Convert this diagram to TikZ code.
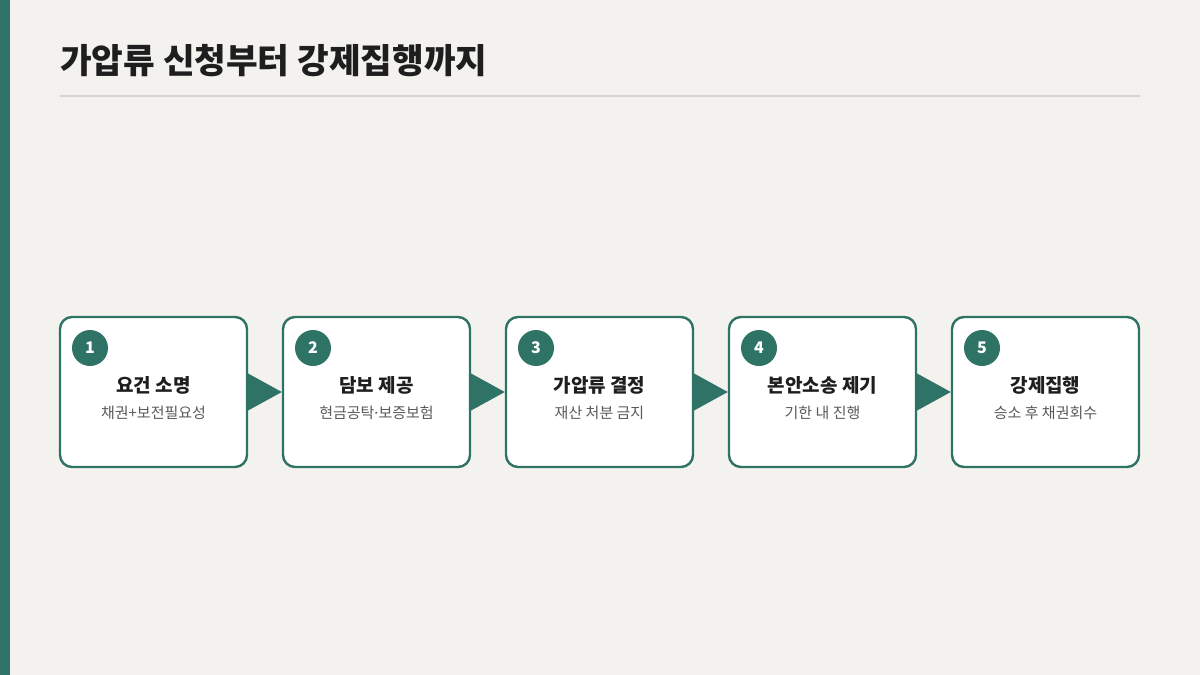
\documentclass[tikz,border=0pt]{standalone}
\usepackage{fontspec}
\newfontfamily\cjk{Noto Sans CJK KR}
\newfontfamily\latn{Noto Sans}
\definecolor{teal}{HTML}{2E7366}
\definecolor{bg}{HTML}{F3F2EE}
\definecolor{rule}{HTML}{D6D4CF}
\definecolor{ink}{HTML}{1E1E1E}
\definecolor{sub}{HTML}{5A5A5A}
\begin{document}
\begin{tikzpicture}[x=1pt,y=-1pt,
  stepbox/.style={draw=teal,line width=2.4pt,fill=white,rounded corners=12pt,minimum width=187pt,minimum height=150pt,inner sep=0pt},
  num/.style={circle,fill=teal,minimum size=36pt,inner sep=0pt,text=white,font=\cjk\bfseries\fontsize{16}{16}\selectfont},
  head/.style={text=ink,font=\cjk\bfseries\fontsize{19}{19}\selectfont,inner sep=0pt},
  subt/.style={text=sub,font=\cjk\fontsize{15}{15}\selectfont,inner sep=0pt},
  tri/.style={fill=teal}]
\fill[bg] (0,0) rectangle (1200,675);
\useasboundingbox (0,0) rectangle (1200,675);
\fill[teal] (0,0) rectangle (10,675);
\node[anchor=base west,inner sep=0pt,text=ink,font=\cjk\bfseries\fontsize{34.4}{34.4}\selectfont] (title) at (60,73) {가압류 신청부터 강제집행까지};
\draw[rule,line width=2pt] (60,96) coordinate (r1) -- (1140,96) coordinate (r2);
\foreach \i/\h/\s in {1/요건 소명/채권+보전필요성,2/담보 제공/현금공탁{\latn·}보증보험,3/가압류 결정/재산 처분 금지,4/본안소송 제기/기한 내 진행,5/강제집행/승소 후 채권회수}{
  \pgfmathsetmacro\cx{153.5+223*(\i-1)}
  \node[stepbox] (b\i) at (\cx,392) {};
  \node[num] (n\i) at (\cx-63.5,348) {\i};
  \node[head] (h\i) at (\cx,385) {\h};
  \node[subt] (s\i) at (\cx,413) {\s};
}
\foreach \i/\j in {1/2,2/3,3/4,4/5}{
  \fill[tri] ([xshift=-1pt,yshift=-19pt]b\i.east) -- ([xshift=-1pt,yshift=19pt]b\i.east) -- (b\j.west) -- cycle;
}
\end{tikzpicture}
\end{document}
